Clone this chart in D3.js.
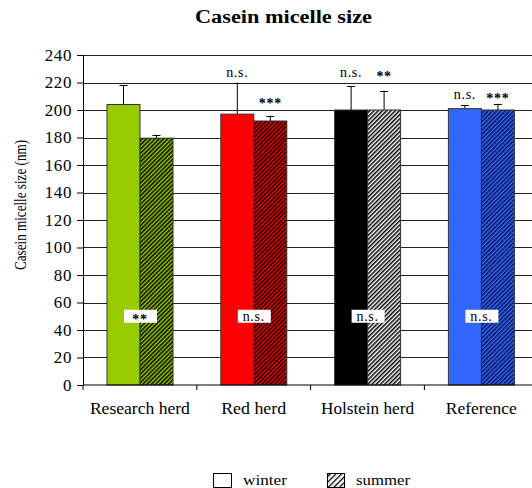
<!DOCTYPE html>
<html>
<head>
<meta charset="utf-8">
<script src="https://cdn.jsdelivr.net/npm/d3@7"></script>
<style>
  body { margin: 0; background: #fff; }
  svg { display: block; }
  svg text { font-family: "Liberation Serif", "DejaVu Serif", serif; }
</style>
</head>
<body>
<div id="chart"></div>
<script>
// Data
const categories = ["Research herd", "Red herd", "Holstein herd", "Reference"];
const labelWidths = [100, 65, 93, 71];            // the original text looks stretched
const winterValues = [204, 197, 200, 201];
const winterTops = [218, 220, 217.5, 203.5];   // top of error bar
const summerValues = [179.5, 192, 200, 200];
const summerTops = [181.5, 196, 214, 204.5];
const barColors = ["#99cc00", "#ff0000", "#000000", "#3366ff"];
const summerBase = ["#99cc00", "#ff0000", "#ffffff", "#3366ff"];
const stripeColors = ["#000000", "#000000", "#000000", "#0a1650"];
const winterMarks = ["", "n.s.", "n.s.", "n.s."];
const summerMarks = ["", "***", "**", "***"];
const markLevels = [0, 228, 228, 211.5];          // where the n.s. / stars sit
const summerMarkLevels = [0, 208, 228, 211.5];
const insideMarks = ["**", "n.s.", "n.s.", "n.s."];
const insideLevel = 50;
const yTicks = d3.range(0, 241, 20);

const width = 532, height = 488;

const svg = d3.select("#chart")
    .append("svg")
    .attr("width", width)
    .attr("height", height);

// scales
const y = d3.scaleLinear().domain([0, 240]).range([385, 55]);
const x = d3.scaleBand().domain(categories).range([83, 83 + 4 * 113.8]).padding(0);
const sub = d3.scaleBand().domain(["winter", "summer"]).range([24, 90]).padding(0);

// hatch patterns for summer bars
const defs = svg.append("defs");
categories.forEach((c, i) => {
    const p = defs.append("pattern")
        .attr("id", "hatch" + i)
        .attr("patternUnits", "userSpaceOnUse")
        .attr("width", 3)
        .attr("height", 3)
        .attr("patternTransform", "rotate(45)");
    p.append("rect").attr("width", 3).attr("height", 3).attr("fill", summerBase[i]);
    p.append("rect").attr("width", 1.5).attr("height", 3).attr("fill", stripeColors[i]);
});
defs.append("pattern")
    .attr("id", "hatchLegend")
    .attr("patternUnits", "userSpaceOnUse")
    .attr("width", 4).attr("height", 4)
    .attr("patternTransform", "rotate(45)")
    .call(p => {
        p.append("rect").attr("width", 4).attr("height", 4).attr("fill", "#fff");
        p.append("rect").attr("width", 1.3).attr("height", 4).attr("fill", "#000");
    });

// gridlines
svg.append("g")
    .selectAll("line")
    .data(yTicks.filter(d => d > 0))
    .join("line")
    .attr("x1", 83).attr("x2", width)
    .attr("y1", d => Math.round(y(d)) + 0.5)
    .attr("y2", d => Math.round(y(d)) + 0.5)
    .attr("stroke", "#222")
    .attr("stroke-width", 1);

// title
svg.append("text")
    .attr("x", 195).attr("y", 23)
    .attr("textLength", 177)
    .attr("lengthAdjust", "spacingAndGlyphs")
    .style("font-size", "18px")
    .style("font-weight", "bold")
    .text("Casein micelle size");

// bars
const rows = categories.map((c, i) => [
    {cat: c, i: i, s: "winter", v: winterValues[i], top: winterTops[i]},
    {cat: c, i: i, s: "summer", v: summerValues[i], top: summerTops[i]}
]).flat();

const bars = svg.append("g");
bars.selectAll("line.err")
    .data(rows)
    .join("line")
    .attr("class", "err")
    .attr("x1", d => x(d.cat) + sub(d.s) + sub.bandwidth() / 2)
    .attr("x2", d => x(d.cat) + sub(d.s) + sub.bandwidth() / 2)
    .attr("y1", d => y(d.v))
    .attr("y2", d => y(d.top))
    .attr("stroke", "#000");
bars.selectAll("line.cap")
    .data(rows)
    .join("line")
    .attr("class", "cap")
    .attr("x1", d => x(d.cat) + sub(d.s) + sub.bandwidth() / 2 - 4)
    .attr("x2", d => x(d.cat) + sub(d.s) + sub.bandwidth() / 2 + 4)
    .attr("y1", d => Math.round(y(d.top)) + 0.5)
    .attr("y2", d => Math.round(y(d.top)) + 0.5)
    .attr("stroke", "#000");
bars.selectAll("rect")
    .data(rows)
    .join("rect")
    .attr("x", d => x(d.cat) + sub(d.s))
    .attr("y", d => y(d.v))
    .attr("width", sub.bandwidth())
    .attr("height", d => y(0) - y(d.v))
    .attr("fill", d => d.s === "winter" ? barColors[d.i] : `url(#hatch${d.i})`)
    .attr("stroke", "#333")
    .attr("stroke-width", 1);

// axes
svg.append("g")
    .attr("transform", "translate(83,0)")
    .call(d3.axisLeft(y).tickValues(yTicks).tickSize(6).tickPadding(5))
    .attr("font-family", null)
    .attr("font-size", null)
    .call(g => g.selectAll("text")
        .style("font-size", "17px")
        .style("letter-spacing", "0.6px")
        .attr("fill", "#000"))
    .call(g => g.selectAll("line, path").attr("stroke", "#000"));

const xAxis = svg.append("g").attr("transform", "translate(0,385)");
xAxis.append("line")
    .attr("x1", 83).attr("x2", width)
    .attr("stroke", "#000");
xAxis.selectAll("line.tick")
    .data(categories)
    .join("line")
    .attr("class", "tick")
    .attr("x1", d => x(d)).attr("x2", d => x(d))
    .attr("y1", 0).attr("y2", 5)
    .attr("stroke", "#000");
xAxis.selectAll("text")
    .data(categories)
    .join("text")
    .attr("x", (d, i) => x(d) + x.bandwidth() / 2 - labelWidths[i] / 2)
    .attr("y", 29)
    .attr("textLength", (d, i) => labelWidths[i])
    .attr("lengthAdjust", "spacingAndGlyphs")
    .style("font-size", "16px")
    .text(d => d);

// y axis title (squeezed along its length like the original)
svg.append("text")
    .attr("transform", "translate(26,270) rotate(-90)")
    .attr("textLength", 130)
    .attr("lengthAdjust", "spacingAndGlyphs")
    .style("font-size", "16px")
    .text("Casein micelle size (nm)");

// significance marks above bars
const marks = svg.append("g").style("font-size", "14px");
categories.forEach((c, i) => {
    [["winter", winterMarks[i], markLevels[i]], ["summer", summerMarks[i], summerMarkLevels[i]]]
        .forEach(([s, t, lvl]) => {
            if (!t) return;
            marks.append("text")
                .attr("x", x(c) + sub(s) + sub.bandwidth() / 2)
                .attr("y", y(lvl) + (t.startsWith("*") ? 9 : 5))
                .attr("text-anchor", "middle")
                .style("font-weight", t.startsWith("*") ? "bold" : "normal")
                .style("letter-spacing", "0.7px")
                .text(t);
        });
});

// labels inside the bars, on white boxes
const inside = svg.append("g");
inside.selectAll("rect")
    .data(categories)
    .join("rect")
    .attr("x", d => x(d) + 57 - 16)
    .attr("y", y(insideLevel) - 6.5)
    .attr("width", 33)
    .attr("height", 13)
    .attr("fill", "#fff");
inside.selectAll("text")
    .data(categories)
    .join("text")
    .attr("x", d => x(d) + 57)
    .attr("y", (d, i) => y(insideLevel) + (insideMarks[i].startsWith("*") ? 8 : 4.5))
    .attr("text-anchor", "middle")
    .style("font-size", "14px")
    .style("letter-spacing", "0.7px")
    .style("font-weight", (d, i) => insideMarks[i].startsWith("*") ? "bold" : "normal")
    .text((d, i) => insideMarks[i]);

// legend
const legend = svg.append("g").style("font-size", "14px");
legend.append("rect")
    .attr("x", 213.5).attr("y", 473.5).attr("width", 18).attr("height", 14)
    .attr("fill", "#fff").attr("stroke", "#000");
legend.append("text")
    .attr("x", 243).attr("y", 485)
    .attr("textLength", 44).attr("lengthAdjust", "spacingAndGlyphs")
    .text("winter");
legend.append("rect")
    .attr("x", 327.5).attr("y", 473.5).attr("width", 17).attr("height", 14)
    .attr("fill", "url(#hatchLegend)").attr("stroke", "#000");
legend.append("text")
    .attr("x", 356).attr("y", 485)
    .attr("textLength", 54).attr("lengthAdjust", "spacingAndGlyphs")
    .text("summer");
</script>
</body>
</html>
